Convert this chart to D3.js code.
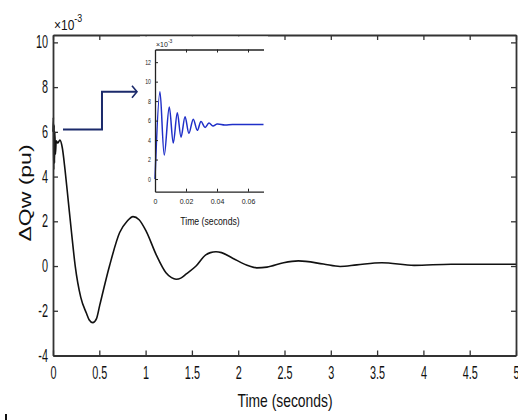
<!DOCTYPE html>
<html>
<head>
<meta charset="utf-8">
<script src="https://cdn.jsdelivr.net/npm/d3@7"></script>
<style>
  body { margin: 0; background: #fff; }
  svg { display: block; font-family: "Liberation Sans", Arial, sans-serif; }
</style>
</head>
<body>
<svg width="518" height="420"></svg>
<script>
// main response, ΔQw in units of 1e-3 pu
var mainT = [0, 0.004, 0.008, 0.012, 0.016, 0.02, 0.026, 0.035, 0.05, 0.075, 0.1, 0.13, 0.165, 0.2, 0.24, 0.3, 0.36, 0.39, 0.43,
  0.47, 0.505, 0.61, 0.72, 0.8, 0.864, 0.93, 1.007, 1.115, 1.22, 1.28, 1.33, 1.38, 1.44, 1.545, 1.65, 1.7, 1.76, 1.82, 1.94,
  2.12, 2.2, 2.31, 2.49, 2.65, 2.92, 3.1, 3.28, 3.55, 3.9, 4.3, 4.86, 5.0];
var mainV = [6.0, 6.65, 4.3, 6.3, 4.6, 6.0, 5.0, 5.6, 5.5, 5.63, 5.3, 4.3, 2.9, 1.5, 0.0, -1.4, -2.1, -2.4, -2.53,
  -2.35, -1.75, 0.0, 1.5, 2.0, 2.21, 2.07, 1.55, 0.5, -0.3, -0.52, -0.59, -0.54, -0.35, 0.0, 0.5, 0.6, 0.64, 0.6, 0.35,
  0.0, -0.08, -0.05, 0.15, 0.23, 0.09, -0.02, 0.05, 0.15, 0.03, 0.08, 0.08, 0.08];

// zoomed first 0.07 s
var insetT = [0, 0.0032, 0.006, 0.0092, 0.0118, 0.0144, 0.0168, 0.0194, 0.0219, 0.0247, 0.0273, 0.0297, 0.0323,
  0.0348, 0.0374, 0.04, 0.045, 0.05, 0.06, 0.07];
var insetV = [0, 8.95, 2.46, 7.4, 3.7, 6.8, 4.3, 6.4, 4.7, 6.15, 5.0, 5.9, 5.3, 5.75, 5.45, 5.65, 5.55, 5.6, 5.6, 5.6];

var xTicks = [0, 0.5, 1, 1.5, 2, 2.5, 3, 3.5, 4, 4.5, 5];
var yTicks = [-4, -2, 0, 2, 4, 6, 8, 10];
var insetXTicks = [0, 0.02, 0.04, 0.06];
var insetYTicks = [0, 2, 4, 6, 8, 10, 12];

// callout arrow in main-axis coordinates
var arrowT = [0.108, 0.529, 0.529, 0.907];
var arrowV = [6.11, 6.11, 7.79, 7.79];

var svg = d3.select("svg");

var x = d3.scaleLinear().domain([0, 5]).range([53, 516]);
var y = d3.scaleLinear().domain([-4, 10.33]).range([355.5, 35]);

var xi = d3.scaleLinear().domain([0, 0.07]).range([155, 263.5]);
var yi = d3.scaleLinear().domain([-1.3, 13.3]).range([191.7, 49.5]);

var line = d3.line()
  .x(function(d) { return x(d[0]); })
  .y(function(d) { return y(d[1]); })
  .curve(d3.curveMonotoneX);

svg.append("path")
  .datum(d3.zip(mainT, mainV))
  .attr("d", line)
  .attr("fill", "none")
  .attr("stroke", "#111")
  .attr("stroke-width", 1.6);

function squeeze(g, s, pad, side) {
  g.selectAll(".domain").attr("stroke", "#333").attr("stroke-width", 1.8);
  g.selectAll(".tick line").attr("stroke", "#333").attr("stroke-width", 1.3);
  g.selectAll(".tick text")
    .attr("fill", "#111")
    .attr("transform", "scale(" + s + ",1)");
  if (side === "left") g.selectAll(".tick text").attr("x", -pad / s);
}

var tick = 5;

svg.append("g")
  .attr("transform", "translate(0,35)")
  .call(d3.axisTop(x).tickValues(xTicks).tickSizeInner(-tick).tickSizeOuter(0).tickFormat(""))
  .call(squeeze, 1);

svg.append("g")
  .attr("transform", "translate(516,0)")
  .call(d3.axisRight(y).tickValues(yTicks).tickSizeInner(-tick).tickSizeOuter(0).tickFormat(""))
  .call(squeeze, 1);

svg.append("g")
  .attr("transform", "translate(0,355.5)")
  .call(d3.axisBottom(x).tickValues(xTicks).tickSizeInner(-tick).tickSizeOuter(0).tickPadding(11)
    .tickFormat(function(d) { return String(d); }))
  .attr("font-size", 17.5)
  .call(squeeze, 0.62);

svg.append("g")
  .attr("transform", "translate(53,0)")
  .call(d3.axisLeft(y).tickValues(yTicks).tickSizeInner(-tick).tickSizeOuter(0)
    .tickFormat(function(d) { return String(d); }))
  .attr("font-size", 17.5)
  .call(squeeze, 0.62, 5, "left");

// exponent label
var ex = svg.append("text").attr("transform", "translate(54,30) scale(0.8,1)").attr("fill", "#111");
ex.append("tspan").attr("font-size", 15).text("\u00d710");
ex.append("tspan").attr("font-size", 11).attr("dy", -8).text("-3");

svg.append("text")
  .attr("transform", "translate(285,400) scale(0.75,1)")
  .attr("text-anchor", "middle")
  .attr("dominant-baseline", "central")
  .attr("font-size", 18.5)
  .attr("fill", "#111")
  .text("Time (seconds)");

svg.append("text")
  .attr("transform", "translate(25,193) rotate(-90) scale(1,0.7)")
  .attr("text-anchor", "middle")
  .attr("dominant-baseline", "central")
  .attr("font-size", 23)
  .attr("fill", "#111")
  .text("\u0394Qw (pu)");

svg.append("rect")
  .attr("x", 5).attr("y", 414).attr("width", 2).attr("height", 6)
  .attr("fill", "#111");

// inset panel
svg.append("rect")
  .attr("x", 140).attr("y", 36.5).attr("width", 128).attr("height", 176)
  .attr("fill", "#fff");

svg.append("path")
  .datum(d3.zip(arrowT, arrowV))
  .attr("d", d3.line().x(function(d) { return x(d[0]); }).y(function(d) { return y(d[1]); }))
  .attr("fill", "none")
  .attr("stroke", "#1b2a6b")
  .attr("stroke-width", 2);

var tip = [x(arrowT[3]), y(arrowV[3])];
svg.append("path")
  .attr("d", "M" + (tip[0] - 5) + "," + (tip[1] - 6) + "L" + tip[0] + "," + tip[1] + "L" + (tip[0] - 5) + "," + (tip[1] + 6))
  .attr("fill", "none")
  .attr("stroke", "#1b2a6b")
  .attr("stroke-width", 1.6);

var iline = d3.line()
  .x(function(d) { return xi(d[0]); })
  .y(function(d) { return yi(d[1]); })
  .curve(d3.curveCatmullRom.alpha(0.5));

svg.append("path")
  .datum(d3.zip(insetT, insetV))
  .attr("d", iline)
  .attr("fill", "none")
  .attr("stroke", "#1f2fc8")
  .attr("stroke-width", 1.5);

function thin(g) {
  g.selectAll(".domain").attr("stroke", "#222").attr("stroke-width", 1.3);
  g.selectAll(".tick line").attr("stroke", "#222").attr("stroke-width", 1);
  g.selectAll(".tick text").attr("fill", "#222");
}

svg.append("g")
  .attr("transform", "translate(0,49.5)")
  .call(d3.axisTop(xi).tickValues(insetXTicks.slice(1)).tickSizeInner(-3).tickSizeOuter(0).tickFormat(""))
  .call(thin);

svg.append("g")
  .attr("transform", "translate(0,191.7)")
  .call(d3.axisBottom(xi).tickValues(insetXTicks).tickSizeInner(-3).tickSizeOuter(0).tickPadding(7)
    .tickFormat(function(d) { return String(d); }))
  .attr("font-size", 7)
  .call(thin);

svg.append("g")
  .attr("transform", "translate(155,0)")
  .call(d3.axisLeft(yi).tickValues(insetYTicks).tickSizeInner(-3).tickSizeOuter(0)
    .tickFormat(function(d) { return String(d); }))
  .attr("font-size", 7)
  .call(thin)
  .selectAll(".tick text").attr("x", -4 / 0.75).attr("transform", "scale(0.75,1)");

var iex = svg.append("text").attr("transform", "translate(156,47)").attr("fill", "#222");
iex.append("tspan").attr("font-size", 7).text("\u00d710");
iex.append("tspan").attr("font-size", 5).attr("dy", -4).text("-3");

svg.append("text")
  .attr("transform", "translate(210,221.5) scale(0.87,1)")
  .attr("text-anchor", "middle")
  .attr("dominant-baseline", "central")
  .attr("font-size", 10)
  .attr("fill", "#111")
  .text("Time (seconds)");
</script>
</body>
</html>
